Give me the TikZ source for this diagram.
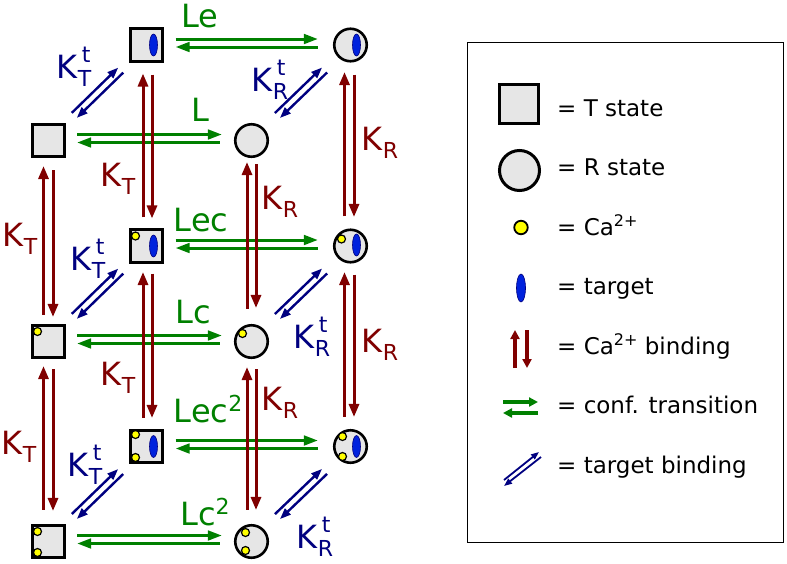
\documentclass[tikz,border=0pt]{standalone}
\usepackage{fontspec}
\setmainfont{DejaVu Sans}
\usetikzlibrary{arrows.meta,calc}
\definecolor{kred}{HTML}{800000}
\definecolor{kgreen}{HTML}{008000}
\definecolor{kblue}{HTML}{000080}
\definecolor{tblue}{HTML}{0022DD}
\definecolor{cafill}{HTML}{FFFF00}
\definecolor{stfill}{HTML}{E6E6E6}
\newcommand\mysub[1]{\raisebox{-8pt}{\fontsize{22}{22}\selectfont #1}}
\newcommand\mysup[1]{\raisebox{16pt}{\fontsize{22}{22}\selectfont #1}}
\newcommand\Klab[1]{K\mysub{#1}}
\newcommand\Ktlab[1]{K\rlap{\hspace{4pt}\mysup{t}}\mysub{#1}}
\newcommand\lsq[1]{\raisebox{11pt}{\fontsize{22}{22}\selectfont #1}}
\newcommand\legsq[1]{\raisebox{9pt}{\fontsize{16}{16}\selectfont #1}}
\begin{document}
\begin{tikzpicture}[x=1pt,y=-1pt,
  tstate/.style={draw=black,line width=2.6pt,fill=stfill,rectangle,minimum size=32.5pt,inner sep=0pt},
  rstate/.style={draw=black,line width=2.6pt,fill=stfill,circle,minimum size=32.5pt,inner sep=0pt},
  cadot/.style={draw=black,fill=cafill,line width=1.2pt},
  tgt/.style={fill=tblue,draw=kblue,line width=0.6pt},
  rarr/.style={draw=kred,line width=3pt,-{Triangle[length=13pt,width=10pt]}},
  garr/.style={draw=kgreen,line width=3pt,-{Triangle[length=14pt,width=9.5pt]}},
  barr/.style={draw=kblue,line width=2.4pt,-{Triangle[length=11pt,width=8pt]}},
  lab/.style={font=\fontsize{32}{36}\selectfont,inner sep=0pt},
  glab/.style={lab,text=kgreen},
  rlab/.style={lab,text=kred},
  blab/.style={lab,text=kblue},
  legtxt/.style={font=\fontsize{23}{26}\selectfont,inner sep=0pt,anchor=base west}]
\useasboundingbox (0,0) rectangle (787,563);

% states
\node[tstate] (T0) at (48.5,140.5) {};
\node[rstate] (R0) at (251.5,140.5) {};
\node[tstate] (T1) at (48.5,341.5) {};
\node[rstate] (R1) at (251.5,341.5) {};
\node[tstate] (T2) at (48.5,541.5) {};
\node[rstate] (R2) at (251.5,541.5) {};
\node[tstate] (Te0) at (146.5,45) {};
\node[rstate] (Re0) at (350.5,45) {};
\node[tstate] (Te1) at (146.5,246) {};
\node[rstate] (Re1) at (350.5,246) {};
\node[tstate] (Te2) at (146.5,446.5) {};
\node[rstate] (Re2) at (350.5,446.5) {};

% targets
\filldraw[tgt] ($(Te0)+(7,0)$) ellipse [x radius=4pt,y radius=11pt];
\filldraw[tgt] ($(Re0)+(6,0)$) ellipse [x radius=4pt,y radius=11pt];
\filldraw[tgt] ($(Te1)+(7,0)$) ellipse [x radius=4pt,y radius=11pt];
\filldraw[tgt] ($(Re1)+(6,-1)$) ellipse [x radius=4pt,y radius=11pt];
\filldraw[tgt] ($(Te2)+(7,0)$) ellipse [x radius=4pt,y radius=11pt];
\filldraw[tgt] ($(Re2)+(6,0)$) ellipse [x radius=4pt,y radius=11pt];

% calcium
\filldraw[cadot] ($(T1)+(-11,-10)$) circle [radius=4pt];
\filldraw[cadot] ($(Te1)+(-11,-10)$) circle [radius=4pt];
\filldraw[cadot] ($(R1)+(-9,-8)$) circle [radius=4pt];
\filldraw[cadot] ($(Re1)+(-9,-7)$) circle [radius=4pt];
\filldraw[cadot] ($(T2)+(-11,-10)$) circle [radius=4pt];
\filldraw[cadot] ($(T2)+(-11,11)$) circle [radius=4pt];
\filldraw[cadot] ($(Te2)+(-11,-12)$) circle [radius=4pt];
\filldraw[cadot] ($(Te2)+(-11,11)$) circle [radius=4pt];
\filldraw[cadot] ($(R2)+(-6,-9)$) circle [radius=4pt];
\filldraw[cadot] ($(R2)+(-6,9)$) circle [radius=4pt];
\filldraw[cadot] ($(Re2)+(-8,-10)$) circle [radius=4pt];
\filldraw[cadot] ($(Re2)+(-8,10)$) circle [radius=4pt];

% conformational transitions
\draw[garr,shorten <=11.5pt,shorten >=15pt] ([yshift=6pt]Te0.east) -- ([yshift=6pt]Re0.west);
\draw[garr,shorten <=15pt,shorten >=11.5pt] ([yshift=-2pt]Re0.west) -- ([yshift=-2pt]Te0.east);
\draw[garr,shorten <=11pt,shorten >=12pt] ([yshift=6pt]T0.east) -- ([yshift=6pt]R0.west);
\draw[garr,shorten <=14pt,shorten >=11pt] ([yshift=-2pt]R0.west) -- ([yshift=-2pt]T0.east);
\draw[garr,shorten <=11.5pt,shorten >=15pt] ([yshift=6pt]Te1.east) -- ([yshift=6pt]Re1.west);
\draw[garr,shorten <=15pt,shorten >=11.5pt] ([yshift=-2pt]Re1.west) -- ([yshift=-2pt]Te1.east);
\draw[garr,shorten <=11pt,shorten >=12pt] ([yshift=6pt]T1.east) -- ([yshift=6pt]R1.west);
\draw[garr,shorten <=14pt,shorten >=11pt] ([yshift=-2pt]R1.west) -- ([yshift=-2pt]T1.east);
\draw[garr,shorten <=11.5pt,shorten >=15pt] ([yshift=6pt]Te2.east) -- ([yshift=6pt]Re2.west);
\draw[garr,shorten <=15pt,shorten >=11.5pt] ([yshift=-2pt]Re2.west) -- ([yshift=-2pt]Te2.east);
\draw[garr,shorten <=11pt,shorten >=12pt] ([yshift=6pt]T2.east) -- ([yshift=6pt]R2.west);
\draw[garr,shorten <=14pt,shorten >=11pt] ([yshift=-2pt]R2.west) -- ([yshift=-2pt]T2.east);

% calcium binding
\draw[rarr,shorten <=9pt,shorten >=8pt] ([xshift=-5pt]T1.north) -- ([xshift=-5pt]T0.south);
\draw[rarr,shorten <=12pt,shorten >=7pt] ([xshift=4.5pt]T0.south) -- ([xshift=4.5pt]T1.north);
\draw[rarr,shorten <=14pt,shorten >=7pt] ([xshift=-5pt]T2.north) -- ([xshift=-5pt]T1.south);
\draw[rarr,shorten <=10pt,shorten >=13pt] ([xshift=4.5pt]T1.south) -- ([xshift=4.5pt]T2.north);
\draw[rarr,shorten <=11pt,shorten >=11pt] ([xshift=-3.5pt]Te1.north) -- ([xshift=-3.5pt]Te0.south);
\draw[rarr,shorten <=12pt,shorten >=10pt] ([xshift=5.5pt]Te0.south) -- ([xshift=5.5pt]Te1.north);
\draw[rarr,shorten <=11pt,shorten >=8.5pt] ([xshift=-3.5pt]Te2.north) -- ([xshift=-3.5pt]Te1.south);
\draw[rarr,shorten <=10pt,shorten >=11pt] ([xshift=5.5pt]Te1.south) -- ([xshift=5.5pt]Te2.north);
\draw[rarr,shorten <=15pt,shorten >=4pt] ([xshift=-4.5pt]R1.north) -- ([xshift=-4.5pt]R0.south);
\draw[rarr,shorten <=6pt,shorten >=16pt] ([xshift=4.5pt]R0.south) -- ([xshift=4.5pt]R1.north);
\draw[rarr,shorten <=14pt,shorten >=8pt] ([xshift=-4.5pt]R2.north) -- ([xshift=-4.5pt]R1.south);
\draw[rarr,shorten <=10pt,shorten >=14pt] ([xshift=4.5pt]R1.south) -- ([xshift=4.5pt]R2.north);
\draw[rarr,shorten <=12pt,shorten >=9.5pt] ([xshift=-6pt]Re1.north) -- ([xshift=-6pt]Re0.south);
\draw[rarr,shorten <=12pt,shorten >=11.5pt] ([xshift=3.5pt]Re0.south) -- ([xshift=3.5pt]Re1.north);
\draw[rarr,shorten <=12pt,shorten >=8.5pt] ([xshift=-6pt]Re2.north) -- ([xshift=-6pt]Re1.south);
\draw[rarr,shorten <=11pt,shorten >=12pt] ([xshift=3.5pt]Re1.south) -- ([xshift=3.5pt]Re2.north);

% target binding
\draw[barr,shorten <=36pt,shorten >=36pt] ([xshift=-2.5pt,yshift=2.5pt]T0.center) -- ([xshift=-2.5pt,yshift=2.5pt]Te0.center);
\draw[barr,shorten <=36pt,shorten >=36pt] ([xshift=2.5pt,yshift=-2.5pt]Te0.center) -- ([xshift=2.5pt,yshift=-2.5pt]T0.center);
\draw[barr,shorten <=36pt,shorten >=36pt] ([xshift=-2.5pt,yshift=2.5pt]R0.center) -- ([xshift=-2.5pt,yshift=2.5pt]Re0.center);
\draw[barr,shorten <=36pt,shorten >=36pt] ([xshift=2.5pt,yshift=-2.5pt]Re0.center) -- ([xshift=2.5pt,yshift=-2.5pt]R0.center);
\draw[barr,shorten <=36pt,shorten >=36pt] ([xshift=-2.5pt,yshift=2.5pt]T1.center) -- ([xshift=-2.5pt,yshift=2.5pt]Te1.center);
\draw[barr,shorten <=36pt,shorten >=36pt] ([xshift=2.5pt,yshift=-2.5pt]Te1.center) -- ([xshift=2.5pt,yshift=-2.5pt]T1.center);
\draw[barr,shorten <=36pt,shorten >=36pt] ([xshift=-2.5pt,yshift=2.5pt]R1.center) -- ([xshift=-2.5pt,yshift=2.5pt]Re1.center);
\draw[barr,shorten <=36pt,shorten >=36pt] ([xshift=2.5pt,yshift=-2.5pt]Re1.center) -- ([xshift=2.5pt,yshift=-2.5pt]R1.center);
\draw[barr,shorten <=36pt,shorten >=36pt] ([xshift=-2.5pt,yshift=2.5pt]T2.center) -- ([xshift=-2.5pt,yshift=2.5pt]Te2.center);
\draw[barr,shorten <=36pt,shorten >=36pt] ([xshift=2.5pt,yshift=-2.5pt]Te2.center) -- ([xshift=2.5pt,yshift=-2.5pt]T2.center);
\draw[barr,shorten <=36pt,shorten >=36pt] ([xshift=-2.5pt,yshift=2.5pt]R2.center) -- ([xshift=-2.5pt,yshift=2.5pt]Re2.center);
\draw[barr,shorten <=36pt,shorten >=36pt] ([xshift=2.5pt,yshift=-2.5pt]Re2.center) -- ([xshift=2.5pt,yshift=-2.5pt]R2.center);

% labels
\node[glab] (lLe) at (200,16) {Le};
\node[glab] (lL) at (200,110) {L};
\node[glab] (lLec) at (201,220) {Lec};
\node[glab] (lLc) at (193,312) {Lc};
\node[glab] (lLec2) at (208,409) {Lec\lsq{2}};
\node[glab] (lLc2) at (205,512) {Lc\lsq{2}};
\node[rlab] (kT1) at (20,239) {\Klab{T}};
\node[rlab] (kT2) at (19,447) {\Klab{T}};
\node[rlab] (kT3) at (118,179) {\Klab{T}};
\node[rlab] (kT4) at (118,378) {\Klab{T}};
\node[rlab] (kR1) at (280,202) {\Klab{R}};
\node[rlab] (kR2) at (280,403) {\Klab{R}};
\node[rlab] (kR3) at (380,143) {\Klab{R}};
\node[rlab] (kR4) at (380,345) {\Klab{R}};
\node[blab] (ktT1) at (74,67) {\Ktlab{T}};
\node[blab] (ktR1) at (270,80) {\Ktlab{R}};
\node[blab] (ktT2) at (88,259) {\Ktlab{T}};
\node[blab] (ktR2) at (312,337) {\Ktlab{R}};
\node[blab] (ktT3) at (85,465) {\Ktlab{T}};
\node[blab] (ktR3) at (315,537) {\Ktlab{R}};

% legend
\node[draw=black,line width=1.5pt,minimum width=316pt,minimum height=500pt,inner sep=0pt] (legend) at (625.5,292.5) {};
\node[tstate,line width=3pt,minimum size=39pt] (lgT) at (519,104) {};
\node[rstate,line width=3pt,minimum size=40pt] (lgR) at (519.5,170.5) {};
\node[circle,draw=black,fill=cafill,line width=1.8pt,minimum size=13.5pt,inner sep=0pt] (lgCa) at (521,227.5) {};
\coordinate (lgTg) at (521,288);
\filldraw[tgt] (lgTg) ellipse [x radius=4.5pt,y radius=14pt];
\coordinate (lrA) at (515,368); \coordinate (lrB) at (515,330);
\coordinate (lrC) at (527,330); \coordinate (lrD) at (527,368);
\draw[rarr,line width=3.4pt,-{Triangle[length=9pt,width=9pt]}] (lrA) -- (lrB);
\draw[rarr,line width=3.4pt,-{Triangle[length=9pt,width=9pt]}] (lrC) -- (lrD);
\coordinate (lgA) at (503,402); \coordinate (lgB) at (538,402);
\coordinate (lgC) at (538,413); \coordinate (lgD) at (503,413);
\draw[garr,line width=3.4pt,-{Triangle[length=9pt,width=9pt]}] (lgA) -- (lgB);
\draw[garr,line width=3.4pt,-{Triangle[length=9pt,width=9pt]}] (lgC) -- (lgD);
\coordinate (lbA) at (504,480); \coordinate (lbB) at (539,452);
\coordinate (lbC) at (541,457); \coordinate (lbD) at (504,486);
\draw[barr,line width=1.8pt,-{Triangle[length=8pt,width=6pt]}] (lbA) -- (lbB);
\draw[barr,line width=1.8pt,-{Triangle[length=8pt,width=6pt]}] (lbC) -- (lbD);
\node[legtxt] (tT) at (557,116) {= T state};
\node[legtxt] (tR) at (557,175.5) {= R state};
\node[legtxt] (tCa) at (557,235) {= Ca\legsq{2+}};
\node[legtxt] (tTg) at (557,294.5) {= target};
\node[legtxt] (tCb) at (557,354) {= Ca\legsq{2+} binding};
\node[legtxt] (tCf) at (557,413.5) {= conf. transition};
\node[legtxt] (tTb) at (557,473) {= target binding};
\end{tikzpicture}
\end{document}
